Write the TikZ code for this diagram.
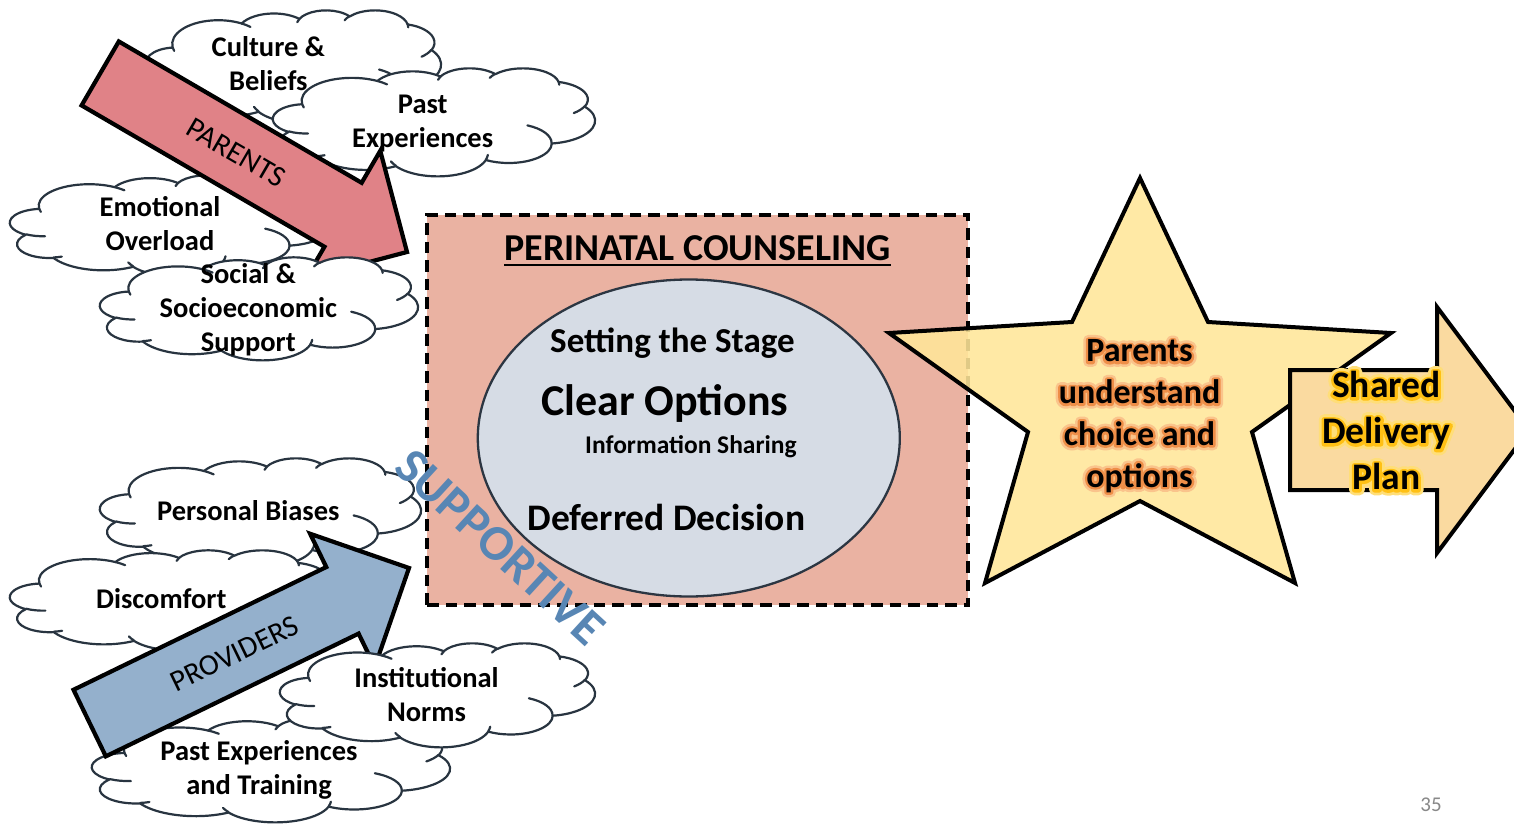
\documentclass[tikz,border=0pt]{standalone}
\usepackage{fontspec}
\setmainfont{Carlito}
% stroked (emboldened) faces used for the soft halos behind the outcome texts
\newfontface\halowide{Carlito Bold}[FakeBold=29]
\newfontface\halonarrow{Carlito Bold}[FakeBold=14]
\usetikzlibrary{shapes.geometric}

\definecolor{cloudline}{RGB}{40,52,64}
\definecolor{parentred}{RGB}{224,130,135}
\definecolor{providerblue}{RGB}{148,176,204}
\definecolor{counselpink}{RGB}{234,178,162}
\definecolor{ovalgray}{RGB}{214,220,229}
\definecolor{ovalline}{RGB}{44,54,66}
\definecolor{staryellow}{RGB}{255,230,153}
\definecolor{planorange}{RGB}{250,218,160}
\definecolor{starglowout}{RGB}{250,196,140}
\definecolor{starglowin}{RGB}{238,142,72}
\definecolor{planglowout}{RGB}{255,222,120}
\definecolor{planglowin}{RGB}{255,192,20}
\definecolor{supportblue}{RGB}{88,134,180}
\definecolor{pagegray}{RGB}{137,137,137}

\tikzset{
  % parametric angle of the point seen at visual angle \a on a w-by-h ellipse
  declare function={vang(\a,\w,\h)=atan2(sin(\a)/\h,cos(\a)/\w);},
  oa/.style n args={4}{insert path={arc[start angle={vang(#3,#1,#2)},
      delta angle={mod(vang(#3+#4,#1,#2)-vang(#3,#1,#2)+720,360)},
      x radius=#1, y radius=#2]}},
  cloudbody/.style={draw=cloudline, line width=2.2pt, fill=white, line join=round},
  cloudseam/.style={draw=cloudline, line width=2.2pt, line cap=round},
  arrowbody/.style={draw=black, line width=4.2pt, line join=miter},
  puffwords/.style={font=\fontsize{28.5}{34}\selectfont\bfseries, align=center,
      inner sep=0pt, execute at begin node=\strut, execute at end node=\strut},
  arrowwords/.style={font=\fontsize{30}{36}\selectfont, inner sep=0pt,
      text height=19pt, text depth=0pt},
  counselbox/.style={rectangle, draw=black, fill=counselpink, line width=3.5pt,
      dash pattern=on 11.5pt off 7pt, minimum width=541pt, minimum height=390pt,
      inner sep=0pt, outer sep=0pt},
  ovalshape/.style={ellipse, draw=ovalline, fill=ovalgray, line width=2.3pt,
      minimum width=422pt, minimum height=317pt, inner sep=0pt},
  stagewords/.style={font=\fontsize{#1}{#1}\selectfont\bfseries, inner sep=0pt, anchor=base},
  roundstroke/.style={execute at begin node={\special{pdf:literal direct 1 j 1 J}\strut}},
  starwordsstyle/.style={font=\fontsize{34}{41.7}\selectfont\bfseries, align=center,
      inner sep=0pt, execute at begin node=\strut, execute at end node=\strut},
  planwordsstyle/.style={font=\fontsize{37.5}{46}\selectfont\bfseries, align=center,
      inner sep=0pt, execute at begin node=\strut, execute at end node=\strut},
}

% PowerPoint-style cloud placed in the box (x0,y0) of size w x h
\newcommand\puffcloud[4]{%
  \pgfmathsetmacro\puffw{#3/43.2}%
  \pgfmathsetmacro\puffh{#4/43.2}%
  \begin{scope}[shift={(#1,#2)}, x=\puffw pt, y=-\puffh pt]
    \path[cloudbody] (3.9,14.37)
      [oa={6.753}{9.19}{-190.48748}{123.78053}]
      [oa={5.333}{7.267}{-144.10238}{89.94523}]
      [oa={4.365}{5.945}{-145.80792}{99.72302}]
      [oa={4.857}{6.595}{-130.98607}{117.24173}]
      [oa={5.333}{7.273}{-78.70888}{109.02692}]
      [oa={6.775}{9.22}{-46.26725}{130.269}]
      [oa={5.785}{7.867}{0.62502}{114.03333}]
      [oa={6.752}{9.215}{22.4516}{115.17255}]
      [oa={7.72}{10.543}{66.24263}{75.71102}]
      [oa={4.36}{5.918}{-274.94208}{146.73557}]
      [oa={4.345}{5.945}{-246.8285}{152.51885}]
      -- cycle;
    \path[cloudseam] (4.693,26.177) [oa={4.345}{5.945}{86.742}{26.4295}]
      (6.928,34.899) [oa={4.36}{5.918}{73.61047}{11.44747}]
      (16.478,39.09) [oa={6.752}{9.215}{137.62415}{14.0811}]
      (28.827,34.751) [oa={6.752}{9.215}{6.45327}{15.99835}]
      (34.129,22.954) [oa={5.785}{7.867}{-70.29235}{70.9174}]
      (41.798,15.354) [oa={5.333}{7.273}{30.31803}{27.7515}]
      (38.324,5.426) [oa={4.857}{6.595}{-13.74433}{14.8589}]
      (29.078,3.952) [oa={4.857}{6.595}{-149.18145}{18.19537}]
      (22.141,4.72) [oa={4.365}{5.945}{-163.49427}{17.68635}]
      (14,5.192) [oa={6.753}{9.19}{-66.70695}{12.31935}]
      (4.127,15.789) [oa={6.753}{9.19}{157.65435}{11.85817}];
  \end{scope}}

% block arrow with its tip at (#1,#2), turned by #3 degrees, filled with #4
\newcommand\blockarrow[4]{%
  \begin{scope}[shift={(#1,#2)}, rotate=#3]
    \draw[arrowbody, fill=#4] (0,0) -- (-74,-74) -- (-74,-37) -- (-355,-37)
      -- (-355,37) -- (-74,37) -- (-74,74) -- cycle;
  \end{scope}}

\newcommand\starwords{Parents\\understand\\choice and\\options}
\newcommand\planwords{Shared\\Delivery\\Plan}

\begin{document}
\begin{tikzpicture}[x=1pt, y=-1pt]
\useasboundingbox (0,0) rectangle (1514,824);
\clip (0,0) rectangle (1514,824);
\fill[white] (0,0) rectangle (1514,824);

% parent-side influences
\puffcloud{146}{10}{295}{112}
\puffcloud{10}{175}{323}{101}
\puffcloud{273}{68}{322}{108}
\blockarrow{407}{252}{-30.2}{parentred}
\puffcloud{100}{257}{318}{103}

% provider-side influences
\puffcloud{100}{458}{321}{108}
\puffcloud{10}{550}{325}{100}
\puffcloud{92}{718}{358}{104}
\blockarrow{409}{568}{25.9}{providerblue}
\puffcloud{280}{643}{315}{104}

% counseling box and its core
\node[counselbox] (counsel) at (697.6,410) {};
\node[ovalshape] (oval) at (688.8,438) {};

% outcome star and delivery arrow
\draw[draw=black, line width=4pt, fill=staryellow, fill opacity=0.88, line join=miter]
  (1140,178) -- (1208,322) -- (1391,333) -- (1252,432) -- (1295,583) -- (1140,501)
  -- (985,583) -- (1028,432) -- (889,333) -- (1072,322) -- cycle;
\draw[draw=black, line width=4pt, fill=planorange, line join=miter]
  (1290,370) -- (1437,370) -- (1437,307) -- (1529,430) -- (1437,553) -- (1437,490)
  -- (1290,490) -- cycle;

% cloud labels
\node[puffwords] (culture) at (268.3,68.7) {Culture \&\\Beliefs};
\node[puffwords] (pastexp) at (422.7,126.7) {Past\\Experiences};
\node[puffwords] (emotional) at (160,228.9) {Emotional\\Overload};
\node[puffwords] (social) at (248.3,312.4) {Social \&\\Socioeconomic\\Support};
\node[puffwords] (biases) at (248.3,513.7) {Personal Biases};
\node[puffwords] (discomfort) at (161.3,601.9) {Discomfort};
\node[puffwords] (institutional) at (426.5,700) {Institutional\\Norms};
\node[puffwords] (training) at (259,772.5) {Past Experiences\\and Training};

% arrow labels
\node[arrowwords, rotate=-30.2] (parents) at (236,153) {PARENTS};
\node[arrowwords, rotate=25.9] (providers) at (234.5,654) {PROVIDERS};

% counseling texts
\node[stagewords=38] (title) at (697.6,260) {PERINATAL COUNSELING};
\draw[line width=2pt] ([yshift=-5pt]title.base west) -- ([yshift=-5pt]title.base east);
\node[stagewords=35] (stage) at (672.4,352.7) {Setting the Stage};
\node[stagewords=44] (clear) at (664.7,415.3) {Clear Options};
\node[stagewords=25.5] (sharing) at (690.9,453.3) {Information Sharing};
\node[stagewords=37.5] (deferred) at (666.4,530) {Deferred Decision};

% outcome texts over their halos
\node[starwordsstyle, font=\fontsize{34}{41.7}\selectfont\halowide, text=starglowout, roundstroke]
  (starhaloout) at (1139.5,419.7) {\starwords};
\node[starwordsstyle, font=\fontsize{34}{41.7}\selectfont\halonarrow, text=starglowin, roundstroke]
  (starhaloin) at (1139.5,419.7) {\starwords};
\node[starwordsstyle] (understand) at (1139.5,419.7) {\starwords};
\node[planwordsstyle, font=\fontsize{37.5}{46}\selectfont\halowide, text=planglowout, roundstroke]
  (planhaloout) at (1386.3,437.7) {\planwords};
\node[planwordsstyle, font=\fontsize{37.5}{46}\selectfont\halonarrow, text=planglowin, roundstroke]
  (planhaloin) at (1386.3,437.7) {\planwords};
\node[planwordsstyle] (plan) at (1386.3,437.7) {\planwords};

% diagonal label across the box corner
\node[font=\fontsize{50}{60}\selectfont\bfseries, text=supportblue, inner sep=0pt,
  text height=31.6pt, text depth=0pt, rotate=-42.5] (supportive) at (500,547.5) {SUPPORTIVE};

% slide number
\node[font=\fontsize{21}{24}\selectfont, text=pagegray, inner sep=0pt,
  text height=13.3pt, text depth=0pt] (pagenum) at (1431,805) {35};
\end{tikzpicture}
\end{document}
